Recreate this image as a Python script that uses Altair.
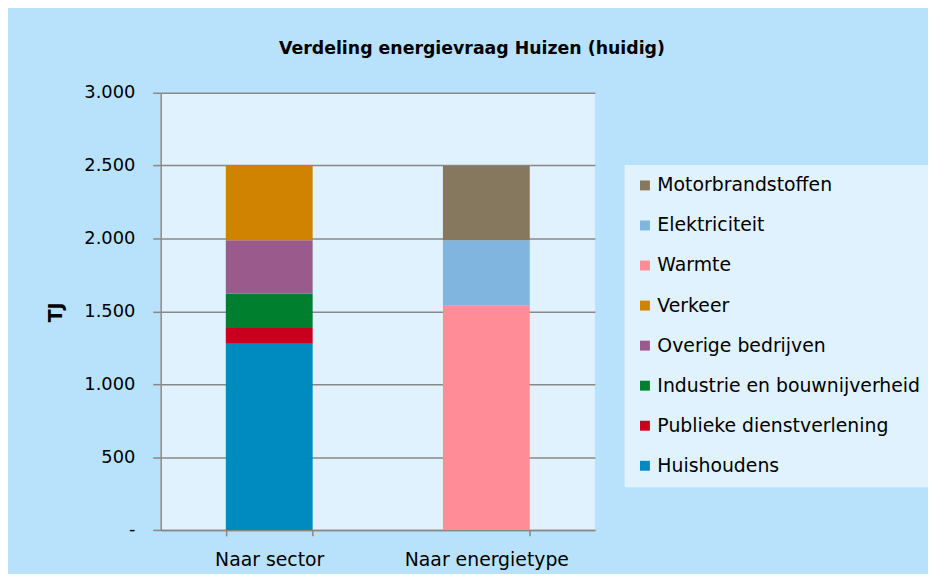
import altair as alt
import pandas as pd

# ---- data ----
categories = ["Naar sector", "Naar energietype"]

sector_names = ["Huishoudens", "Publieke dienstverlening", "Industrie en bouwnijverheid",
                "Overige bedrijven", "Verkeer"]
sector_values = [1278, 108, 235, 367, 510]

type_names = ["Warmte", "Elektriciteit", "Motorbrandstoffen"]
type_values = [1538, 450, 510]

legend_order = ["Motorbrandstoffen", "Elektriciteit", "Warmte", "Verkeer",
                "Overige bedrijven", "Industrie en bouwnijverheid",
                "Publieke dienstverlening", "Huishoudens"]
legend_colors = ["#86785e", "#80b5df", "#ff8c97", "#d08300",
                 "#9b5a8c", "#00802e", "#c8001e", "#008bc0"]

y_ticks = [0, 500, 1000, 1500, 2000, 2500, 3000]

rows = []
for i, (n, v) in enumerate(zip(sector_names, sector_values)):
    rows.append({"cat": categories[0], "serie": n, "val": v, "ord": i})
for i, (n, v) in enumerate(zip(type_names, type_values)):
    rows.append({"cat": categories[1], "serie": n, "val": v, "ord": i})
df = pd.DataFrame(rows)

FONT = "DejaVu Sans"
NB = "\u00a0"

chart = alt.Chart(df).mark_bar().encode(
    x=alt.X("cat:N", sort=categories, title=None,
            scale=alt.Scale(paddingInner=0.6, paddingOuter=0.3),
            axis=alt.Axis(labelAngle=0, labelFontSize=19, labelFont=FONT, labelColor="#000000",
                          tickBand="extent", tickSize=6, tickColor="#888888", tickWidth=1.5,
                          domainColor="#888888", domainWidth=1.5, labelPadding=15)),
    y=alt.Y("val:Q", stack="zero", title="TJ",
            scale=alt.Scale(domain=[0, 3000], nice=False),
            axis=alt.Axis(values=y_ticks, grid=True, gridColor="#888888", gridWidth=1.5,
                          domainColor="#888888", domainWidth=1.5, tickColor="#888888",
                          tickWidth=1.5, tickSize=8,
                          labelFontSize=18, labelFont=FONT, labelColor="#000000",
                          labelPadding=18,
                          labelExpr="datum.value == 0 ? '-" + NB + NB + "' : replace(format(datum.value, ',.0f'), ',', '.')",
                          titleFont=FONT, titleFontSize=19, titleFontWeight="bold",
                          titleColor="#000000", titleX=-96, titleY=221)),
    color=alt.Color("serie:N", scale=alt.Scale(domain=legend_order, range=legend_colors),
                    legend=alt.Legend(title=None, orient="none", legendX=468, legendY=73,
                                      fillColor="#e0f2fd", padding=11, symbolType="square",
                                      symbolSize=100, symbolStrokeWidth=0, labelFont=FONT,
                                      labelFontSize=19, labelColor="#000000", labelOffset=3,
                                      rowPadding=20.4, labelLimit=400)),
    order=alt.Order("ord:Q", sort="ascending"),
).properties(
    width=438, height=441,
    title=alt.TitleParams("Verdeling energievraag Huizen (huidig)", anchor="middle",
                          font=FONT, fontSize=17.5, fontWeight="bold", color="#000000",
                          dx=95, offset=13, baseline="alphabetic"),
    autosize=alt.AutoSizeParams(type="none"),
    padding={"left": 154, "top": 83, "right": 336, "bottom": 42},
    background="#b8e2fc",
).configure_view(
    fill="#e0f2fd", stroke=None
)

chart.save("out.html", embed_options={"renderer": "svg", "actions": False})
